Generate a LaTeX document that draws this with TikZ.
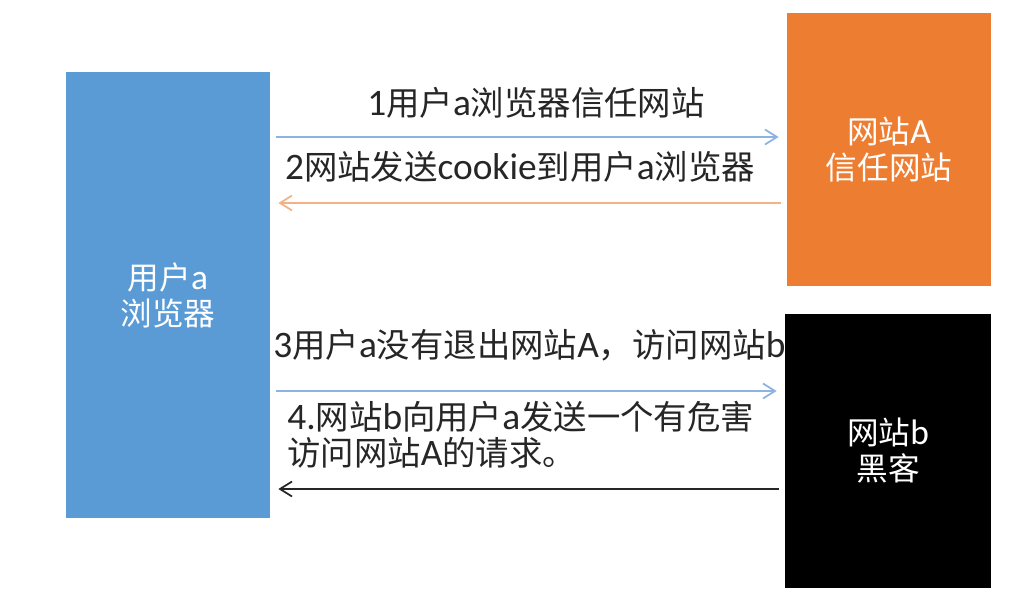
\documentclass[tikz,border=0pt]{standalone}
\usepackage{fontspec}
\setmainfont{Noto Sans CJK SC}
\newfontfamily\lat[Scale=1.12]{Carlito}
\usetikzlibrary{arrows.meta}

\definecolor{boxblue}{HTML}{5B9BD5}
\definecolor{boxorange}{HTML}{ED7D31}
\definecolor{lineblue}{HTML}{8DB3E2}
\definecolor{lineorange}{HTML}{F4B183}
\definecolor{txtgray}{HTML}{262626}

\tikzset{
    site/.style={minimum width=4.08cm, inner sep=0pt, align=center, text=white,
        font=\fontsize{18}{20.5}\selectfont},
    msg/.style={text=txtgray, inner sep=0pt, align=left,
        font=\fontsize{19}{20.5}\selectfont},
    flow/.style={-{Straight Barb[length=2.4mm,width=3mm]}, line width=1pt,
        shorten <=0.12cm, shorten >=0.16cm}
}

\begin{document}
\begin{tikzpicture}
                    \useasboundingbox (0,0) rectangle (20.48,-12.04);
                    % the three parties
                    \node[site, fill=boxblue, minimum height=8.92cm] (browser) at (3.36,-5.90) {用户{\lat a}\\浏览器};
                    \node[site, fill=boxorange, minimum height=5.46cm] (siteA) at (17.78,-2.99) {网站{\lat A}\\信任网站};
                    \node[site, fill=black, minimum width=4.12cm, minimum height=5.48cm] (siteB) at (17.76,-9.02) {网站{\lat b}\\黑客};
                    % message rows
                    \coordinate (r1) at (0,-2.74);
                    \coordinate (r2) at (0,-4.06);
                    \coordinate (r3) at (0,-7.82);
                    \coordinate (r4) at (0,-9.78);
                    \draw[flow, lineblue] (browser.east |- r1) -- (siteA.west |- r1);
                    \draw[flow, lineorange] (siteA.west |- r2) -- (browser.east |- r2);
                    \draw[flow, lineblue] (browser.east |- r3) -- (siteB.west |- r3);
                    \draw[flow, black!85] (siteB.west |- r4) -- (browser.east |- r4);
                    \node[msg] (m1) at (10.72,-2.06) {{\lat 1}用户{\lat a}浏览器信任网站};
                    \node[msg] (m2) at (10.40,-3.34) {{\lat 2}网站发送{\lat cookie}到用户{\lat a}浏览器};
                    \node[msg, anchor=west] (m3) at (5.46,-6.90) {{\lat 3}用户{\lat a}没有退出网站{\lat A}，访问网站{\lat b}};
                    \node[msg, anchor=west] (m4) at (5.74,-8.70) {{\lat 4.}网站{\lat b}向用户{\lat a}发送一个有危害\\访问网站{\lat A}的请求。};
                \end{tikzpicture}
\end{document}
